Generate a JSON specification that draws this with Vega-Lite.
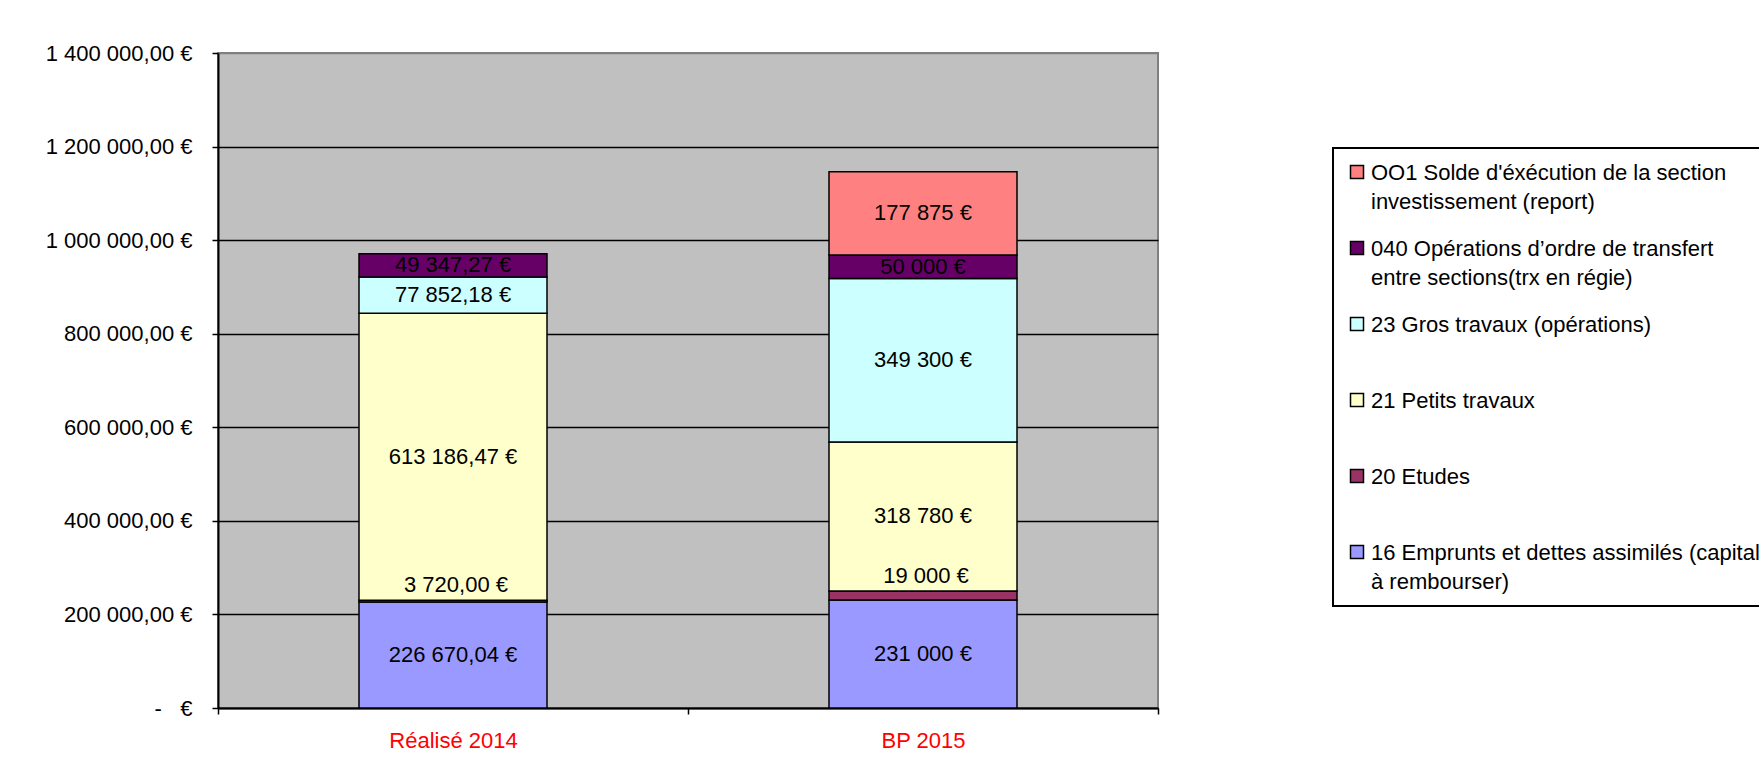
{
  "$schema": "https://vega.github.io/schema/vega-lite/v6.json",
  "width": 940,
  "height": 655,
  "autosize": {"type": "none"},
  "padding": {"left": 218, "top": 53, "right": 601, "bottom": 72},
  "background": "white",
  "config": {
    "locale": {"number": {"decimal": ",", "thousands": "\u00a0", "grouping": [3], "currency": ["", "\u00a0€"]}},
    "font": "Liberation Sans",
    "view": {"fill": "#C0C0C0", "stroke": "#808080", "strokeWidth": 2}
  },
  "data": {
    "values": [
      {"annee": "Réalisé 2014", "poste": "16 Emprunts et dettes assimilés (capital\nà rembourser)", "montant": 226670.04},
      {"annee": "Réalisé 2014", "poste": "20 Etudes", "montant": 3720.00},
      {"annee": "Réalisé 2014", "poste": "21 Petits travaux", "montant": 613186.47},
      {"annee": "Réalisé 2014", "poste": "23 Gros travaux (opérations)", "montant": 77852.18},
      {"annee": "Réalisé 2014", "poste": "040 Opérations d’ordre de transfert\nentre sections(trx en régie)", "montant": 49347.27},
      {"annee": "BP 2015", "poste": "16 Emprunts et dettes assimilés (capital\nà rembourser)", "montant": 231000},
      {"annee": "BP 2015", "poste": "20 Etudes", "montant": 19000},
      {"annee": "BP 2015", "poste": "21 Petits travaux", "montant": 318780},
      {"annee": "BP 2015", "poste": "23 Gros travaux (opérations)", "montant": 349300},
      {"annee": "BP 2015", "poste": "040 Opérations d’ordre de transfert\nentre sections(trx en régie)", "montant": 50000},
      {"annee": "BP 2015", "poste": "OO1 Solde d'éxécution de la section\ninvestissement (report)", "montant": 177875}
    ]
  },
  "transform": [
    {"calculate": "split(datum.poste, ' ')[0]", "as": "code"},
    {"calculate": "indexof(['16', '20', '21', '23', '040', 'OO1'], datum.code)", "as": "rang"},
    {"stack": "montant", "groupby": ["annee"], "sort": [{"field": "rang", "order": "ascending"}], "as": ["v0", "v1"]},
    {"calculate": "(datum.v0 + datum.v1) / 2", "as": "vmid"},
    {"calculate": "format(datum.montant, datum.annee == 'Réalisé 2014' ? ',.2f' : ',.0f') + '\u00a0€'", "as": "etiquette"}
  ],
  "encoding": {
    "x": {
      "field": "annee",
      "type": "nominal",
      "sort": ["Réalisé 2014", "BP 2015"],
      "scale": {"paddingInner": 0, "paddingOuter": 0},
      "axis": {
        "title": null,
        "labelColor": "#FF0000",
        "labelFontSize": 22,
        "labelAngle": 0,
        "tickBand": "extent",
        "tickSize": 6,
        "tickColor": "black",
        "tickWidth": 1.5,
        "domainColor": "black",
        "domainWidth": 2,
        "labelPadding": 16
      }
    },
    "y": {
      "type": "quantitative",
      "scale": {"domain": [0, 1400000], "nice": false},
      "axis": {
        "title": null,
        "values": [0, 200000, 400000, 600000, 800000, 1000000, 1200000, 1400000],
        "labelExpr": "datum.value == 0 ? '-\u00a0\u00a0\u00a0€' : format(datum.value, ',.2f') + '\u00a0€'",
        "labelFontSize": 22,
        "labelColor": "black",
        "labelPadding": 20,
        "tickSize": 6,
        "tickColor": "black",
        "tickWidth": 1.5,
        "domainColor": "black",
        "domainWidth": 2,
        "grid": true,
        "gridColor": {"condition": {"test": "datum.value == 1400000", "value": "#808080"}, "value": "black"},
        "gridWidth": 1.6,
        "gridOpacity": 1
      }
    }
  },
  "layer": [
    {
      "mark": {"type": "bar", "stroke": "black", "strokeWidth": 1.5, "width": {"band": 0.4}},
      "encoding": {
        "y": {"field": "v0", "type": "quantitative", "title": null},
        "y2": {"field": "v1"},
        "color": {
          "field": "poste",
          "type": "nominal",
          "scale": {
            "domain": [
              "OO1 Solde d'éxécution de la section\ninvestissement (report)",
              "040 Opérations d’ordre de transfert\nentre sections(trx en régie)",
              "23 Gros travaux (opérations)",
              "21 Petits travaux",
              "20 Etudes",
              "16 Emprunts et dettes assimilés (capital\nà rembourser)"
            ],
            "range": ["#FF8080", "#660066", "#CCFFFF", "#FFFFCC", "#993366", "#9999FF"]
          },
          "legend": {
            "orient": "none",
            "legendX": 1115,
            "legendY": 95,
            "title": null,
            "direction": "vertical",
            "strokeColor": "black",
            "fillColor": "white",
            "padding": 13,
            "symbolType": "square",
            "symbolSize": 169,
            "symbolStrokeColor": "black",
            "symbolStrokeWidth": 1.5,
            "symbolOpacity": 1,
            "labelFontSize": 22,
            "labelColor": "black",
            "labelLimit": 2000,
            "labelOffset": 3,
            "labelBaseline": "alphabetic",
            "rowPadding": 24,
            "labelExpr": "indexof(datum.label, '\\n') >= 0 ? split(datum.label, '\\n') : [datum.label, '']",
            "encode": {
              "labels": {"update": {"dy": {"value": 8}, "lineHeight": {"value": 29}}},
              "legend": {"update": {"strokeWidth": {"value": 2}}}
            }
          }
        }
      }
    },
    {
      "transform": [{"filter": "datum.code != '20'"}],
      "mark": {"type": "text", "fontSize": 22, "color": "black", "baseline": "middle"},
      "encoding": {
        "y": {"field": "vmid", "type": "quantitative", "title": null},
        "text": {"field": "etiquette"}
      }
    },
    {
      "transform": [{"filter": "datum.code == '20'"}],
      "mark": {"type": "text", "fontSize": 22, "color": "black", "baseline": "middle", "dy": -15, "dx": 3},
      "encoding": {
        "y": {"field": "v1", "type": "quantitative", "title": null},
        "text": {"field": "etiquette"}
      }
    }
  ]
}
